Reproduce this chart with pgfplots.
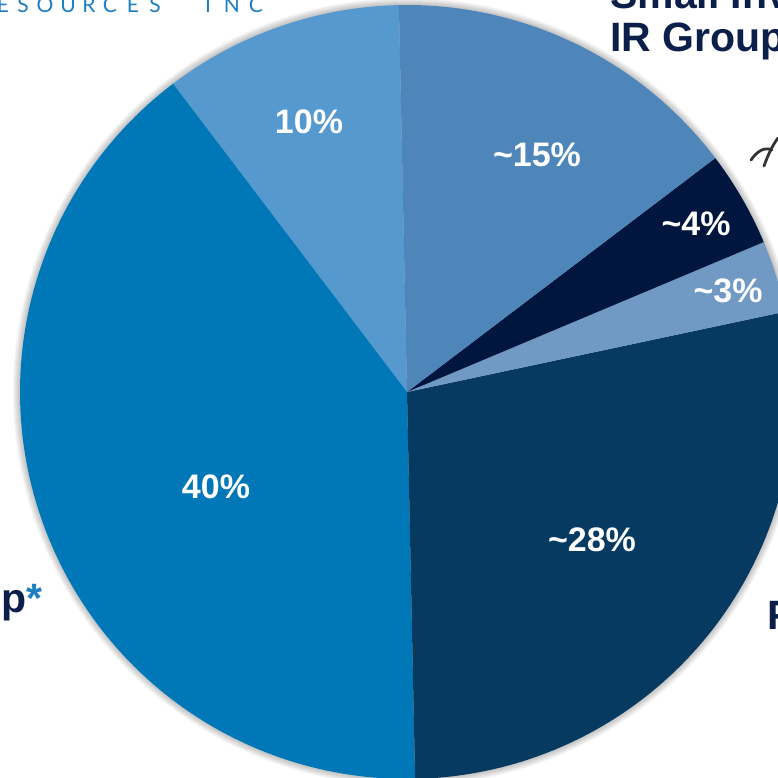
\documentclass[border=0pt]{standalone}
\usepackage{pgfplots}
\pgfplotsset{compat=1.18}
\usepackage{fontspec}
\setmainfont{Liberation Sans}
\newfontfamily\logofont{Lato}
\definecolor{cA}{HTML}{5599CF}
\definecolor{cB}{HTML}{0077B6}
\definecolor{cC}{HTML}{073A61}
\definecolor{cD}{HTML}{7099C4}
\definecolor{cE}{HTML}{00163F}
\definecolor{cF}{HTML}{4E86BA}
\definecolor{navy}{HTML}{0C1E4A}
\definecolor{logo}{HTML}{1E7EC2}
\begin{document}
\begin{tikzpicture}
\useasboundingbox (0,0) rectangle (778pt,777pt);
\clip (0,0) rectangle (778pt,777pt);
% soft shadow
\foreach \k in {1,...,7} {
  \fill[black, opacity=0.035] (407pt,385pt) circle[radius={387pt+\k pt}];
}
\begin{axis}[
  at={(0,0)}, anchor=south west,
  x=1pt, y=1pt,
  xmin=-407, xmax=371, ymin=-385, ymax=392,
  hide axis, clip=true,
]
% slices: start 91.2 deg, counter-clockwise: 10%, 40%, 28%, 3%, 4%, 15%
\addplot[fill=cA, draw=none, domain=91.2:127.2, samples=40, variable=\t] ({387*cos(\t)},{387*sin(\t)}) -- (axis cs:0,0) -- cycle;  % 10%
\addplot[fill=cB, draw=none, domain=127.2:271.2, samples=120, variable=\t] ({387*cos(\t)},{387*sin(\t)}) -- (axis cs:0,0) -- cycle; % 40%
\addplot[fill=cC, draw=none, domain=271.2:372, samples=90, variable=\t] ({387*cos(\t)},{387*sin(\t)}) -- (axis cs:0,0) -- cycle;   % 28%
\addplot[fill=cD, draw=none, domain=12:22.8, samples=20, variable=\t] ({387*cos(\t)},{387*sin(\t)}) -- (axis cs:0,0) -- cycle;     % 3%
\addplot[fill=cE, draw=none, domain=22.8:37.2, samples=20, variable=\t] ({387*cos(\t)},{387*sin(\t)}) -- (axis cs:0,0) -- cycle;   % 4%
\addplot[fill=cF, draw=none, domain=37.2:91.2, samples=50, variable=\t] ({387*cos(\t)},{387*sin(\t)}) -- (axis cs:0,0) -- cycle;   % 15%
\end{axis}
% pie labels
\begin{scope}[every node/.style={text=white, inner sep=0pt, font=\fontsize{34}{40}\selectfont\bfseries}]
\node at (309pt,777pt-122pt) {10\%};
\node at (537pt,777pt-155pt) {\char`\~15\%};
\node at (696pt,777pt-224pt) {\char`\~4\%};
\node at (728pt,777pt-291pt) {\char`\~3\%};
\node at (592pt,777pt-540pt) {\char`\~28\%};
\node at (216pt,777pt-487pt) {40\%};
\end{scope}
% outer labels
\begin{scope}[every node/.style={text=navy, inner sep=0pt, font=\fontsize{41}{48}\selectfont\bfseries}]
\node[anchor=base west] at (610pt,777pt-9pt) {Small Investor};
\node[anchor=base west] at (610pt,777pt-52pt) {IR Group};
\node[anchor=base east] at (43pt,777pt-612pt) {Group{\color{logo}*}};
\node[anchor=base west] at (767pt,777pt-629pt) {Founders};
\end{scope}
% logo text
\begin{scope}[every node/.style={text=logo, inner sep=0pt, anchor=base, font=\logofont\fontsize{21}{23}\selectfont}]
\foreach \ch/\xx in {R/-19, E/3, S/23, O/45, U/68, R/89, C/110, E/133, S/155, I/208, N/232, C/256} {
  \node at (\xx pt,777pt-13pt) {\ch};
}
\end{scope}
% hand-drawn mark
\draw[black!80, line width=2.8pt, line cap=round] (751pt,777pt-160pt) .. controls (758pt,777pt-150pt) and (765pt,777pt-147pt) .. (772pt,777pt-150pt);
\draw[black!80, line width=2.8pt, line cap=round] (764pt,777pt-166pt) .. controls (768pt,777pt-155pt) and (772pt,777pt-146pt) .. (778pt,777pt-138pt);
\end{tikzpicture}
\end{document}
